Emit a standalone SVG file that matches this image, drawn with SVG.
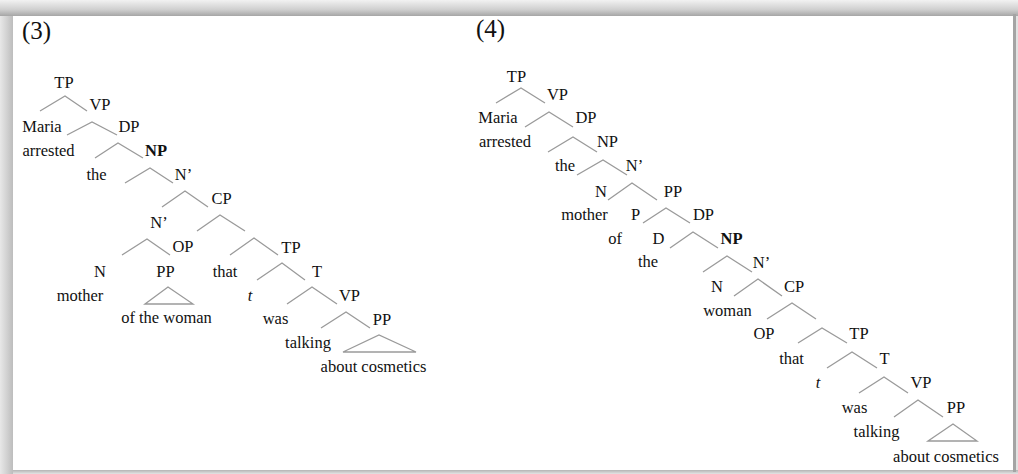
<svg xmlns="http://www.w3.org/2000/svg" width="1018" height="474" viewBox="0 0 1018 474">
  <defs>
    <linearGradient id="gTop" x1="0" y1="0" x2="0" y2="1">
      <stop offset="0" stop-color="#f2f2f2"/>
      <stop offset="0.6" stop-color="#cfcfcf"/>
      <stop offset="1" stop-color="#a6a6a6"/>
    </linearGradient>
    <linearGradient id="gLeft" x1="0" y1="0" x2="1" y2="0">
      <stop offset="0" stop-color="#e8e8e8"/>
      <stop offset="1" stop-color="#bdbdbd"/>
    </linearGradient>
    <linearGradient id="gBot" x1="0" y1="0" x2="0" y2="1">
      <stop offset="0" stop-color="#b4b4b4"/>
      <stop offset="1" stop-color="#e4e4e4"/>
    </linearGradient>
  </defs>
  <style>
    text { font-family: "Liberation Serif", "Times New Roman", serif; font-size: 16.5px; fill: #111; text-anchor: middle; }
    .num { font-size: 25px; text-anchor: start; }
    .b { font-weight: bold; }
    .i { font-style: italic; }
    .e polyline, .e polygon { fill: none; stroke: #9a9a9a; stroke-width: 1.3; stroke-linejoin: miter; }
  </style>

  <g id="frame">
    <rect x="0" y="0" width="1018" height="474" fill="#e2e2e2"/>
    <rect x="0" y="0" width="1018" height="16" fill="url(#gTop)"/>
    <rect x="0" y="16" width="13" height="458" fill="url(#gLeft)"/>
    <rect x="13" y="470" width="1005" height="4" fill="url(#gBot)"/>
    <rect x="1013" y="14" width="3" height="458" fill="#a4a4a4"/>
    <rect x="13" y="16" width="1000" height="454" fill="#ffffff"/>
  </g>

  <g id="labels">
    <text class="num" x="22" y="39">(3)</text>
    <text class="num" x="476" y="37">(4)</text>
  </g>

  <g id="connectors" class="e">
    <!-- tree 3 -->
    <polyline points="40,111 65,96 87,111"/>
    <polyline points="67,135 92,122 117,135"/>
    <polyline points="95,158 118,143 143,158"/>
    <polyline points="125,183 150,168 173,183"/>
    <polyline points="162,207 185,191 208,207"/>
    <polyline points="197,231 220,215 245,231"/>
    <polyline points="122,255 147,239 170,255"/>
    <polyline points="230,255 254,238 278,255"/>
    <polygon points="145,304 168,287 193,304"/>
    <polyline points="257,280 282,263 305,280"/>
    <polyline points="287,304 312,287 337,304"/>
    <polyline points="321,328 346,312 370,328"/>
    <polygon points="343,352 379,335 416,352"/>
    <!-- tree 4 -->
    <polyline points="496,103 521,88 545,103"/>
    <polyline points="525,127 549,112 573,127"/>
    <polyline points="548,152 573,137 597,152"/>
    <polyline points="577,175 603,160 627,175"/>
    <polyline points="608,200 632,183 657,200"/>
    <polyline points="643,223 666,208 690,223"/>
    <polyline points="670,248 693,232 718,248"/>
    <polyline points="703,272 727,256 752,272"/>
    <polyline points="734,296 758,279 782,296"/>
    <polyline points="767,319 792,303 816,319"/>
    <polyline points="798,343 822,328 847,343"/>
    <polyline points="827,368 852,352 877,368"/>
    <polyline points="859,393 884,377 908,393"/>
    <polyline points="894,417 918,400 943,417"/>
    <polygon points="928,441 953,424 977,441"/>
  </g>

  <g id="tree3">
    <g id="t3-TP"><text x="64" y="88">TP</text></g>
    <g id="t3-VP"><text x="100" y="110">VP</text></g>
    <g id="t3-Maria"><text x="42" y="132">Maria</text></g>
    <g id="t3-DP"><text x="129" y="132">DP</text></g>
    <g id="t3-arrested"><text x="48.5" y="156">arrested</text></g>
    <g id="t3-NP"><text class="b" x="156" y="156">NP</text></g>
    <g id="t3-the"><text x="96.5" y="180">the</text></g>
    <g id="t3-Nbar1"><text x="183.5" y="180">N’</text></g>
    <g id="t3-CP"><text x="221.5" y="204">CP</text></g>
    <g id="t3-Nbar2"><text x="159" y="228">N’</text></g>
    <g id="t3-OP"><text x="183" y="252">OP</text></g>
    <g id="t3-TP2"><text x="291" y="253">TP</text></g>
    <g id="t3-N"><text x="100" y="277">N</text></g>
    <g id="t3-PP"><text x="165.5" y="277">PP</text></g>
    <g id="t3-that"><text x="225" y="277">that</text></g>
    <g id="t3-T"><text x="317" y="277">T</text></g>
    <g id="t3-mother"><text x="80" y="301">mother</text></g>
    <g id="t3-t"><text class="i" x="250" y="301">t</text></g>
    <g id="t3-VP2"><text x="349.5" y="301">VP</text></g>
    <g id="t3-ofthewoman"><text x="166.5" y="323">of the woman</text></g>
    <g id="t3-was"><text x="275.5" y="324">was</text></g>
    <g id="t3-PP2"><text x="382" y="325">PP</text></g>
    <g id="t3-talking"><text x="308" y="348">talking</text></g>
    <g id="t3-aboutcosmetics"><text x="373.5" y="372">about cosmetics</text></g>
  </g>

  <g id="tree4">
    <g id="t4-TP"><text x="516.5" y="82">TP</text></g>
    <g id="t4-VP"><text x="557.5" y="100">VP</text></g>
    <g id="t4-Maria"><text x="498" y="123">Maria</text></g>
    <g id="t4-DP"><text x="586" y="123">DP</text></g>
    <g id="t4-arrested"><text x="505" y="147">arrested</text></g>
    <g id="t4-NP"><text x="607.5" y="147">NP</text></g>
    <g id="t4-the"><text x="565" y="171">the</text></g>
    <g id="t4-Nbar"><text x="634.5" y="171">N’</text></g>
    <g id="t4-N"><text x="601" y="197">N</text></g>
    <g id="t4-PP"><text x="673" y="197">PP</text></g>
    <g id="t4-mother"><text x="584.5" y="220">mother</text></g>
    <g id="t4-P"><text x="635.5" y="220">P</text></g>
    <g id="t4-DP2"><text x="703.5" y="220">DP</text></g>
    <g id="t4-of"><text x="615" y="244">of</text></g>
    <g id="t4-D"><text x="658.5" y="244">D</text></g>
    <g id="t4-NP2"><text class="b" x="731.5" y="244">NP</text></g>
    <g id="t4-the2"><text x="648" y="267">the</text></g>
    <g id="t4-Nbar2"><text x="761.5" y="268">N’</text></g>
    <g id="t4-N2"><text x="717" y="292">N</text></g>
    <g id="t4-CP"><text x="794" y="292">CP</text></g>
    <g id="t4-woman"><text x="727.5" y="316">woman</text></g>
    <g id="t4-OP"><text x="764" y="339">OP</text></g>
    <g id="t4-TP2"><text x="859" y="339">TP</text></g>
    <g id="t4-that"><text x="791.5" y="364">that</text></g>
    <g id="t4-T"><text x="884.5" y="364">T</text></g>
    <g id="t4-t"><text class="i" x="818" y="388">t</text></g>
    <g id="t4-VP2"><text x="921" y="388">VP</text></g>
    <g id="t4-was"><text x="854.5" y="413">was</text></g>
    <g id="t4-PP2"><text x="956" y="413">PP</text></g>
    <g id="t4-talking"><text x="876.5" y="437">talking</text></g>
    <g id="t4-aboutcosmetics"><text x="946" y="462">about cosmetics</text></g>
  </g>
</svg>
